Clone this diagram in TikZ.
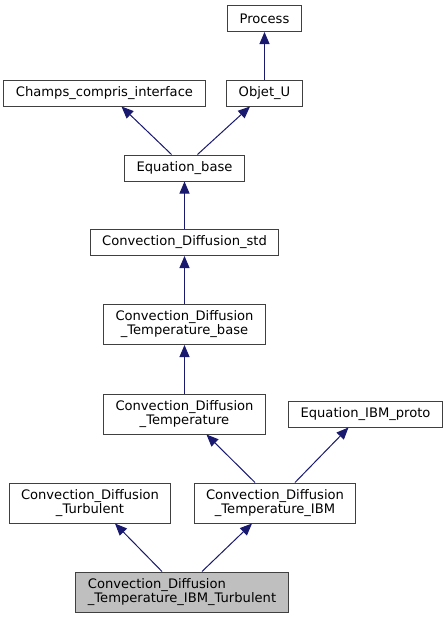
\documentclass[tikz,border=0pt]{standalone}
\usepackage{fontspec}
\newfontfamily\dejavu{DejaVu Sans}
\usetikzlibrary{arrows.meta}
\definecolor{edgeblue}{RGB}{25,25,112}
\tikzset{
  classnode/.style = {align=center, inner xsep=12pt, inner ysep=2pt, text centered, font=\dejavu\fontsize{13.1pt}{14pt}\selectfont, draw=black!75, fill=white, line width=1pt},
  cls_n/.style = {classnode, minimum height=26pt},
  cls_m/.style = {classnode, minimum height=40pt},
  cls_g/.style = {classnode, minimum height=40pt, align=left, fill=black!25},
  inh/.style = {draw=edgeblue, line width=1pt, -{Triangle[length=12pt,width=10pt]}}
}

\begin{document}
\begin{tikzpicture}[x=1pt,y=-1pt]
	\useasboundingbox (0,0) rectangle (447,619);
	\node [cls_n] (process) at (264.5,18.5) {Process};
	\node [cls_n] (champs) at (104.5,93) {Champs\_compris\_interface};
	\node [cls_n] (objet_u) at (264.5,93) {Objet\_U};
	\node [cls_n] (eq_base) at (184.5,168) {Equation\_base};
	\node [cls_n] (cd_std) at (184.5,242.5) {Convection\_Diffusion\_std};
	\node [cls_m] (cd_tbase) at (184.5,324.5) {Convection\_Diffusion\\\_Temperature\_base};
	\node [cls_m] (cd_temp) at (184.5,414) {Convection\_Diffusion\\\_Temperature};
	\node [cls_n] (eq_ibm) at (365.5,414) {Equation\_IBM\_proto};
	\node [cls_m] (cd_turb) at (90,503) {Convection\_Diffusion\\\_Turbulent};
	\node [cls_m] (cd_tibm) at (275,503) {Convection\_Diffusion\\\_Temperature\_IBM};
	\node [cls_g] (cd_tibm_turb) at (182,592) {Convection\_Diffusion\\\_Temperature\_IBM\_Turbulent};

	\draw [inh] (objet_u) -- (process);
	\draw [inh] ([xshift=-13pt]eq_base.north) -- ([xshift=17pt]champs.south);
	\draw [inh] ([xshift=13pt]eq_base.north) -- ([xshift=-14.5pt]objet_u.south);
	\draw [inh] (cd_std) -- (eq_base);
	\draw [inh] (cd_tbase) -- (cd_std);
	\draw [inh] (cd_temp) -- (cd_tbase);
	\draw [inh] ([xshift=-20pt]cd_tibm.north) -- ([xshift=22pt]cd_temp.south);
	\draw [inh] ([xshift=20pt]cd_tibm.north) -- ([xshift=-17pt]eq_ibm.south);
	\draw [inh] ([xshift=-20pt]cd_tibm_turb.north) -- ([xshift=25pt]cd_turb.south);
	\draw [inh] ([xshift=20pt]cd_tibm_turb.north) -- ([xshift=-23pt]cd_tibm.south);
\end{tikzpicture}
\end{document}
